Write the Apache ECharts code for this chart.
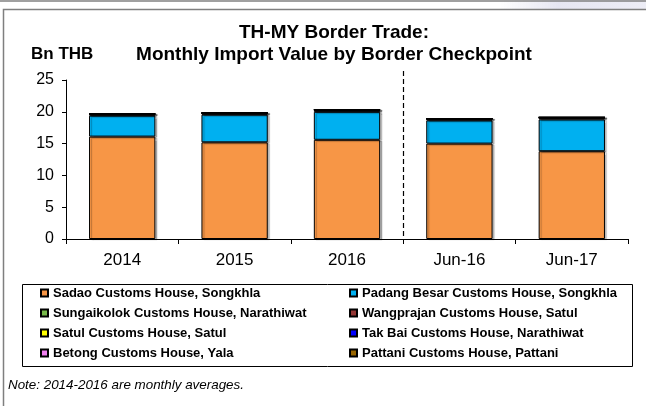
<!DOCTYPE html>
<html>
<head>
<meta charset="utf-8">
<script src="https://cdn.jsdelivr.net/npm/echarts@6/dist/echarts.min.js"></script>
<style>
html, body { margin: 0; padding: 0; background: #fff; }
#chart { width: 646px; height: 406px; }
</style>
</head>
<body>
<div id="chart"></div>
<script>
// categories and values (Bn THB)
var categories = ['2014', '2015', '2016', 'Jun-16', 'Jun-17'];
var sadao = [16.1, 15.2, 15.6, 15.0, 13.8];
var padangBesar = [3.3, 4.35, 4.4, 3.65, 5.0];
var sungaikolok = [0.15, 0.15, 0.2, 0.15, 0.2];
var wangprajan = [0.05, 0.05, 0.05, 0.05, 0.05];
var satul = [0.03, 0.03, 0.03, 0.03, 0.03];
var takBai = [0.05, 0.05, 0.05, 0.05, 0.05];
var betong = [0.01, 0.01, 0.01, 0.01, 0.01];
var pattani = [0.01, 0.01, 0.01, 0.01, 0.01];
var yTicks = [0, 5, 10, 15, 20, 25];

var names = [
	'Sadao Customs House, Songkhla',
	'Padang Besar Customs House, Songkhla',
	'Sungaikolok Customs House, Narathiwat',
	'Wangprajan Customs House, Satul',
	'Satul Customs House, Satul',
	'Tak Bai Customs House, Narathiwat',
	'Betong Customs House, Yala',
	'Pattani Customs House, Pattani'
];
var values = [sadao, padangBesar, sungaikolok, wangprajan, satul, takBai, betong, pattani];
var colors = ['#F79646', '#00B0F0', '#77B94A', '#943634', '#FFFF00', '#0000FF', '#F080F0', '#996600'];

var FONT = '"Liberation Sans", Arial, sans-serif';

var series = names.map(function (n, i) {
	return {
		name: n,
		type: 'bar',
		stack: 'total',
		barWidth: '59%',
		data: values[i],
		itemStyle: {
			color: colors[i],
			borderColor: '#000',
			borderWidth: 1,
			shadowColor: 'rgba(0,0,0,0.25)',
			shadowOffsetX: 2,
			shadowOffsetY: 1,
			shadowBlur: 1
		},
		emphasis: { disabled: true }
	};
});

var legendText = { fontFamily: FONT, fontSize: 13, fontWeight: 'bold', color: '#000', lineHeight: 14 };

var option = {
	animation: false,
	textStyle: { fontFamily: FONT },
	title: [
		{
			text: 'TH-MY Border Trade:\nMonthly Import Value by Border Checkpoint',
			left: 334, top: 22, textAlign: 'center', padding: 0,
			textStyle: { fontFamily: FONT, fontSize: 19, fontWeight: 'bold', color: '#000', lineHeight: 22 }
		},
		{
			text: 'Bn THB',
			left: 31, top: 46, padding: 0,
			textStyle: { fontFamily: FONT, fontSize: 17, fontWeight: 'bold', color: '#000' }
		},
		{
			text: 'Note: 2014-2016 are monthly averages.',
			left: 8, top: 379, padding: 0,
			textStyle: { fontFamily: FONT, fontSize: 13.4, fontWeight: 'normal', fontStyle: 'italic', color: '#000' }
		}
	],
	legend: [
		{
			data: [names[0], names[2], names[4], names[6]],
			orient: 'vertical', left: 40, top: 286, padding: 0,
			itemWidth: 7, itemHeight: 7, itemGap: 6,
			icon: 'rect', selectedMode: false,
			textStyle: legendText
		},
		{
			data: [names[1], names[3], names[5], names[7]],
			orient: 'vertical', left: 349, top: 286, padding: 0,
			itemWidth: 7, itemHeight: 7, itemGap: 6,
			icon: 'rect', selectedMode: false,
			textStyle: legendText
		}
	],
	grid: { left: 66, right: 18, top: 80, bottom: 167, containLabel: false },
	xAxis: {
		type: 'category',
		data: categories,
		axisLine: { lineStyle: { color: '#000', width: 1 } },
		axisTick: { show: true, length: 5, interval: 0, lineStyle: { color: '#000' } },
		axisLabel: { fontFamily: FONT, fontSize: 17, color: '#000', margin: 13, interval: 0 }
	},
	yAxis: {
		type: 'value',
		min: yTicks[0], max: yTicks[yTicks.length - 1], interval: yTicks[1] - yTicks[0],
		axisLine: { show: true, lineStyle: { color: '#000', width: 1 } },
		axisTick: { show: true, length: 4, lineStyle: { color: '#000' } },
		splitLine: { show: false },
		axisLabel: { fontFamily: FONT, fontSize: 16, color: '#000', margin: 12 }
	},
	series: series
};

var chart = echarts.init(document.getElementById('chart'), null, { renderer: 'canvas' });
chart.setOption(option);

// frame, plus dashed divider between yearly averages and June values
var p2 = chart.convertToPixel({ xAxisIndex: 0 }, categories[2]);
var p3 = chart.convertToPixel({ xAxisIndex: 0 }, categories[3]);
var xDiv = Math.round((p2 + p3) / 2) + 0.5;
var y0 = chart.convertToPixel({ yAxisIndex: 0 }, 0);

chart.setOption({
	graphic: [
		{
			type: 'rect', silent: true, z: -1,
			shape: { x: 500, y: 0, width: 146, height: 9 },
			style: {
				fill: new echarts.graphic.LinearGradient(0, 0, 1, 0, [
					{ offset: 0, color: 'rgba(230,230,242,0)' },
					{ offset: 0.4, color: '#E6E6F2' },
					{ offset: 1, color: '#EDEDF6' }
				])
			}
		},
		{
			type: 'line', silent: true,
			shape: { x1: 0, y1: 1, x2: 646, y2: 1 },
			style: { stroke: '#808080', lineWidth: 1.5 }
		},
		{
			type: 'rect', silent: true,
			shape: { x: 3.5, y: 9.5, width: 700, height: 500 },
			style: { fill: 'none', stroke: '#7F7F7F', lineWidth: 1.5 }
		},
		{
			type: 'rect', silent: true,
			shape: { x: 22.5, y: 284.5, width: 610, height: 82 },
			style: { fill: 'none', stroke: '#000', lineWidth: 1 }
		},
		{
			type: 'line', silent: true,
			shape: { x1: xDiv, y1: 71, x2: xDiv, y2: y0 },
			style: { stroke: '#000', lineWidth: 1.2, lineDash: [5, 3] }
		}
	]
});
</script>
</body>
</html>
